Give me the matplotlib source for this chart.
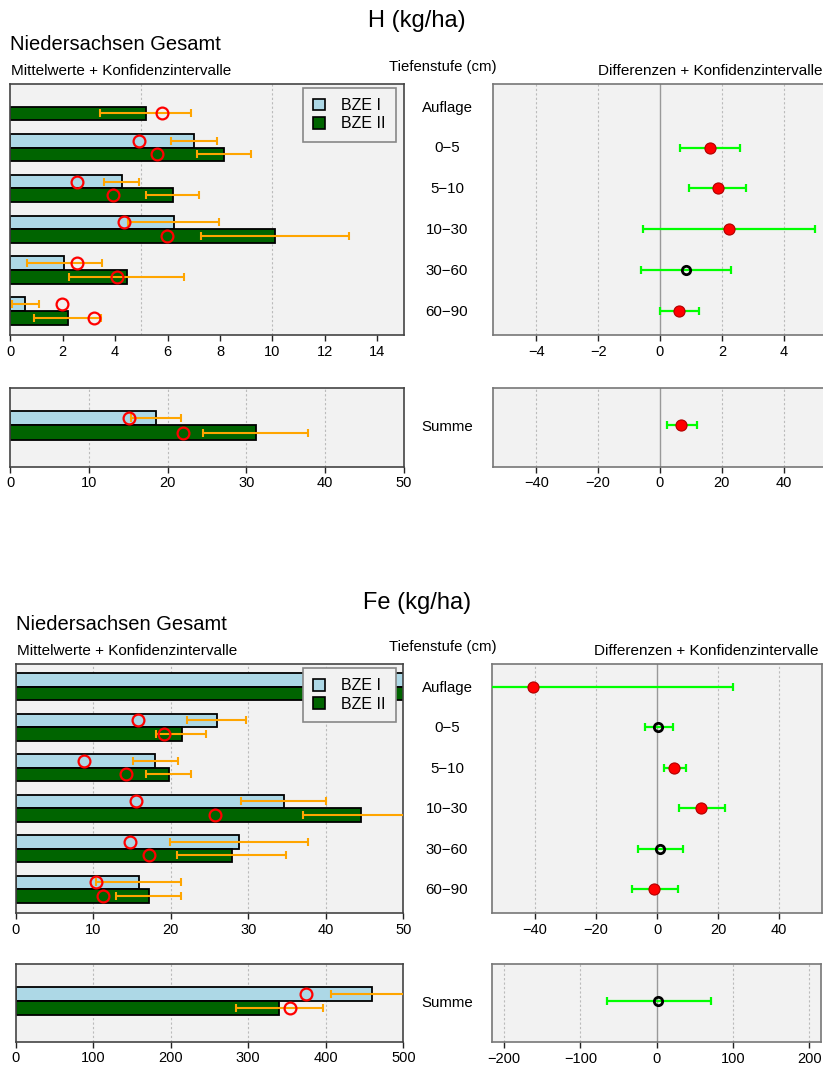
import numpy as np
import matplotlib
matplotlib.use('Agg')
import matplotlib.pyplot as plt
from matplotlib.patches import Patch

plt.rcParams['font.family'] = ['Liberation Sans', 'DejaVu Sans']

W, H = 823, 1070
nan = np.nan

depths = ['Auflage', '0−5', '5−10', '10−30', '30−60', '60−90']
legend_labels = ['BZE I', 'BZE II']

# ---------------- H (kg/ha) ----------------
h_bze1 = [nan, 7.01, 4.25, 6.26, 2.06, 0.57]
h_bze2 = [5.18, 8.16, 6.20, 10.10, 4.45, 2.19]
h_med1 = [nan, 4.91, 2.56, 4.34, 2.55, 1.97]
h_med2 = [5.78, 5.59, 3.92, 5.99, 4.06, 3.21]
h_lo1 = [nan, 6.12, 3.56, 4.50, 0.63, 0.06]
h_hi1 = [nan, 7.90, 4.91, 7.98, 3.49, 1.10]
h_lo2 = [3.42, 7.11, 5.18, 7.27, 2.25, 0.90]
h_hi2 = [6.88, 9.18, 7.20, 12.93, 6.64, 3.45]
h_diff = [nan, 1.62, 1.87, 2.22, 0.85, 0.63]
h_dlo = [nan, 0.64, 0.95, -0.56, -0.60, 0.00]
h_dhi = [nan, 2.60, 2.78, 5.00, 2.30, 1.25]
h_sig = [False, True, True, True, False, True]

h_sum1, h_sum2 = 18.54, 31.22
h_summed1, h_summed2 = 15.14, 22.00
h_sumlo1, h_sumhi1 = 15.40, 21.68
h_sumlo2, h_sumhi2 = 24.48, 37.80
h_sumdiff, h_sumdlo, h_sumdhi, h_sumsig = 6.9, 2.27, 11.87, True

# ---------------- Fe (kg/ha) ----------------
fe_bze1 = [100.0, 25.94, 17.97, 34.66, 28.77, 15.87]
fe_bze2 = [59.5, 21.42, 19.82, 44.55, 27.90, 17.20]
fe_med1 = [80.0, 15.74, 8.85, 15.52, 14.71, 10.40]
fe_med2 = [55.0, 19.17, 14.23, 25.72, 17.20, 11.23]
fe_lo1 = [85.0, 22.10, 15.10, 29.10, 19.91, 10.37]
fe_hi1 = [115.0, 29.70, 20.98, 40.04, 37.75, 21.37]
fe_lo2 = [52.0, 18.15, 16.80, 37.07, 20.85, 12.98]
fe_hi2 = [67.0, 24.55, 22.66, 52.00, 34.88, 21.37]
fe_diff = [-40.5, 0.43, 5.68, 14.5, 1.10, -0.87]
fe_dlo = [-106.0, -4.0, 2.2, 7.2, -6.1, -8.2]
fe_dhi = [25.0, 5.1, 9.5, 22.3, 8.6, 6.9]
fe_sig = [True, False, True, True, False, True]

fe_sum1, fe_sum2 = 460.1, 340.1
fe_summed1, fe_summed2 = 374.2, 354.3
fe_sumlo1, fe_sumhi1 = 406.8, 513.4
fe_sumlo2, fe_sumhi2 = 283.9, 396.1
fe_sumdiff, fe_sumdlo, fe_sumdhi, fe_sumsig = 2.1, -65.5, 70.8, False

C1 = '#ADD8E6'
C2 = '#006400'
ORANGE = '#FFA500'
GREEN = '#00FF00'
BG = '#F2F2F2'

fig = plt.figure(figsize=(W / 100, H / 100), dpi=100)


def add_ax(l, t, r, b):
    return fig.add_axes([l / W, 1 - b / H, (r - l) / W, (b - t) / H])


def style(ax, spine_col):
    ax.set_facecolor(BG)
    for s in ax.spines.values():
        s.set_color(spine_col)
        s.set_linewidth(1.2)
    ax.tick_params(axis='x', direction='out', length=4, width=1, color='#222222',
                   labelsize=10.5, pad=3)
    ax.tick_params(axis='y', left=False, labelleft=False)


def fmt(v):
    s = ('%g' % v)
    return s.replace('-', '−')


def bars_panel(ax, centers, v1, v2, m1, m2, lo1, hi1, lo2, hi2, xlim, ticks, grid, ylim):
    style(ax, '#444444')
    for g in grid:
        ax.axvline(g, color='#BBBBBB', lw=0.8, ls=(0, (2, 2)), zorder=0.5)
    ax.set_xlim(*xlim)
    ax.set_ylim(*ylim)
    ax.set_xticks(ticks)
    ax.set_xticklabels([fmt(t) for t in ticks])
    for c, a, b, ma, mb, la, ha, lb, hb in zip(centers, v1, v2, m1, m2, lo1, hi1, lo2, hi2):
        if not np.isnan(a):
            ax.barh(c - 0.5, a, height=1.0, color=C1, edgecolor='black', lw=1.3, zorder=2)
        if not np.isnan(b):
            ax.barh(c + 0.5, b, height=1.0, color=C2, edgecolor='black', lw=1.3, zorder=2)
        if not np.isnan(a):
            ax.errorbar([a], [c - 0.5], xerr=[[a - la], [ha - a]], fmt='none',
                        ecolor=ORANGE, elinewidth=1.5, capsize=2.6, capthick=1.5, zorder=3)
            ax.plot([ma], [c - 0.5], 'o', ms=8.5, mfc='none', mec='red', mew=1.6, zorder=4)
        if not np.isnan(b):
            ax.errorbar([b], [c + 0.5], xerr=[[b - lb], [hb - b]], fmt='none',
                        ecolor=ORANGE, elinewidth=1.5, capsize=2.6, capthick=1.5, zorder=3)
            ax.plot([mb], [c + 0.5], 'o', ms=8.5, mfc='none', mec='red', mew=1.6, zorder=4)


def diff_panel(ax, centers, d, dlo, dhi, sig, xlim, ticks, ylim):
    style(ax, '#777777')
    for g in ticks:
        if g == 0:
            ax.axvline(0, color='#999999', lw=1.0, zorder=0.5)
        else:
            ax.axvline(g, color='#BBBBBB', lw=0.8, ls=(0, (2, 2)), zorder=0.5)
    ax.set_xlim(*xlim)
    ax.set_ylim(*ylim)
    ax.set_xticks(ticks)
    ax.set_xticklabels([fmt(t) for t in ticks])
    for c, v, lo, hi, s in zip(centers, d, dlo, dhi, sig):
        if np.isnan(v):
            continue
        ax.errorbar([v], [c], xerr=[[v - lo], [hi - v]], fmt='none', ecolor=GREEN,
                    elinewidth=1.6, capsize=3.0, capthick=1.6, zorder=3)
        if s:
            ax.plot([v], [c], 'o', ms=8, mfc='red', mec='#B00000', mew=0.8, zorder=4)
        else:
            ax.plot([v], [c], 'o', ms=6, mfc='none', mec='black', mew=2.0, zorder=4)


centers = [2, 5, 8, 11, 14, 17]
main_ylim = (18.77, 0.335)
sum_ylim = (4.85, -0.6)


def legend(ax):
    handles = [Patch(facecolor=C1, edgecolor='black', lw=1.2),
               Patch(facecolor=C2, edgecolor='black', lw=1.2)]
    lg = ax.legend(handles, legend_labels, loc='upper right', fontsize=11.5,
                   bbox_to_anchor=(0.981, 0.985), borderaxespad=0, fancybox=False,
                   handlelength=0.75, handleheight=0.75, handletextpad=1.0,
                   borderpad=0.65, labelspacing=0.2, framealpha=1)
    lg.get_frame().set_edgecolor('#888888')
    lg.get_frame().set_facecolor(BG)
    lg.get_frame().set_linewidth(1.2)
    lg.set_zorder(10)


def texts(y_title, y_nied, y_sub, x_left, x_right, title, label_ys, sum_y):
    fig.text(417 / W, 1 - y_title / H, title, fontsize=17, ha='center', va='center')
    fig.text(x_left / W, 1 - y_nied / H, 'Niedersachsen Gesamt', fontsize=14.5, ha='left', va='center')
    fig.text((x_left + 1) / W, 1 - y_sub / H, 'Mittelwerte + Konfidenzintervalle', fontsize=11,
             ha='left', va='center')
    fig.text(443 / W, 1 - (y_sub - 4) / H, 'Tiefenstufe (cm)', fontsize=10.7, ha='center', va='center')
    fig.text(x_right / W, 1 - y_sub / H, 'Differenzen + Konfidenzintervalle', fontsize=11,
             ha='right', va='center')
    for lab, y in zip(depths, label_ys):
        fig.text(447 / W, 1 - y / H, lab, fontsize=10.8, ha='center', va='center')
    fig.text(447 / W, 1 - sum_y / H, 'Summe', fontsize=10.8, ha='center', va='center')


# ---- H section ----
ax = add_ax(10.3, 84, 403.5, 335)
bars_panel(ax, centers, h_bze1, h_bze2, h_med1, h_med2, h_lo1, h_hi1, h_lo2, h_hi2,
           (0, 15), list(range(0, 15, 2)), [5, 10], main_ylim)
legend(ax)

ax = add_ax(10.3, 387.5, 403.5, 466.7)
bars_panel(ax, [2], [h_sum1], [h_sum2], [h_summed1], [h_summed2], [h_sumlo1], [h_sumhi1],
           [h_sumlo2], [h_sumhi2], (0, 50), [0, 10, 20, 30, 40, 50], [10, 20, 30, 40], sum_ylim)

ax = add_ax(492.7, 84, 827.3, 335)
diff_panel(ax, centers, h_diff, h_dlo, h_dhi, h_sig, (-5.41, 5.41), [-4, -2, 0, 2, 4], main_ylim)

ax = add_ax(492.7, 387.5, 827.3, 466.7)
diff_panel(ax, [2], [h_sumdiff], [h_sumdlo], [h_sumdhi], [h_sumsig], (-54.1, 54.1),
           [-40, -20, 0, 20, 40], sum_ylim)

texts(21, 44, 71, 10, 822, 'H (kg/ha)', [108, 148, 189, 230, 271, 312], 427)

# ---- Fe section ----
ax = add_ax(15.7, 664.3, 403.3, 913)
bars_panel(ax, centers, fe_bze1, fe_bze2, fe_med1, fe_med2, fe_lo1, fe_hi1, fe_lo2, fe_hi2,
           (0, 50), [0, 10, 20, 30, 40, 50], [10, 20, 30, 40], main_ylim)
legend(ax)

ax = add_ax(15.7, 964.3, 403.3, 1041.7)
bars_panel(ax, [2], [fe_sum1], [fe_sum2], [fe_summed1], [fe_summed2], [fe_sumlo1], [fe_sumhi1],
           [fe_sumlo2], [fe_sumhi2], (0, 500), [0, 100, 200, 300, 400, 500],
           [100, 200, 300, 400], sum_ylim)

ax = add_ax(492.3, 664.3, 821.7, 913)
diff_panel(ax, centers, fe_diff, fe_dlo, fe_dhi, fe_sig, (-54, 54), [-40, -20, 0, 20, 40], main_ylim)

ax = add_ax(492.3, 964.3, 821, 1042)
diff_panel(ax, [2], [fe_sumdiff], [fe_sumdlo], [fe_sumdhi], [fe_sumsig], (-215.5, 215.5),
           [-200, -100, 0, 100, 200], sum_ylim)

texts(603, 625, 651, 16, 818, 'Fe (kg/ha)', [688, 728, 769, 809, 850, 890], 1003)

fig.savefig('out.png', dpi=100)
